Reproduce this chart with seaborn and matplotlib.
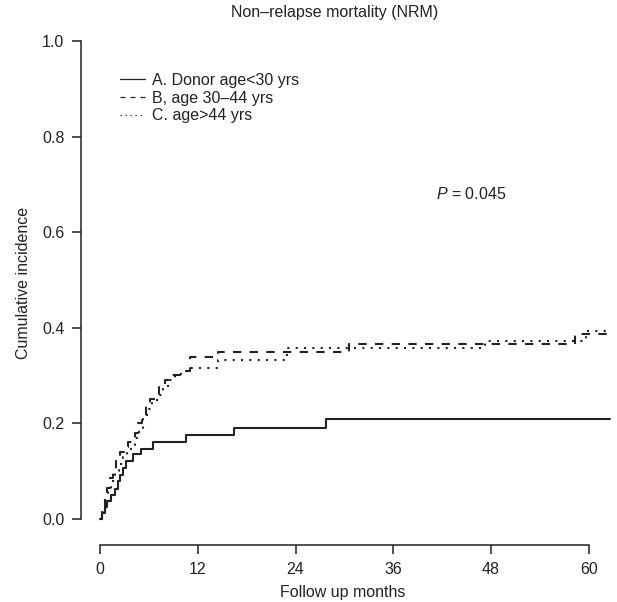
import matplotlib
matplotlib.use("Agg")
import matplotlib.pyplot as plt
import numpy as np
import pandas as pd
import seaborn as sns

# ── data ─────────────────────────────────────────────────────────────────────
months_a = [0, 0.3, 0.6, 0.9, 1.3, 1.8, 2.2, 2.5, 2.8, 3.2, 4.0, 5.0, 6.5,
            10.6, 16.4, 27.8, 62.6]
nrm_a = [0, 0.012, 0.025, 0.037, 0.050, 0.062, 0.078, 0.092, 0.107, 0.121,
         0.135, 0.146, 0.161, 0.176, 0.190, 0.209, 0.209]

months_b = [0, 0.3, 0.6, 0.9, 1.2, 1.6, 2.0, 2.5, 3.0, 3.4, 3.9, 4.3, 4.7,
            5.1, 5.6, 6.1, 6.7, 7.3, 8.0, 8.6, 9.8, 11.0, 14.5, 30.6, 58.3, 62.6]
nrm_b = [0, 0.02, 0.045, 0.065, 0.085, 0.10, 0.12, 0.14, 0.15, 0.16, 0.17,
         0.18, 0.20, 0.22, 0.235, 0.25, 0.262, 0.275, 0.29, 0.30, 0.31,
         0.338, 0.349, 0.366, 0.387, 0.387]

months_c = [0, 0.3, 0.7, 1.0, 1.4, 1.8, 2.3, 2.8, 3.3, 3.8, 4.3, 4.8, 5.3,
            5.8, 6.4, 7.0, 7.7, 8.4, 9.2, 10.0, 11.0, 14.5, 23.0, 47.2, 59.7, 62.6]
nrm_c = [0, 0.015, 0.035, 0.06, 0.08, 0.10, 0.115, 0.13, 0.145, 0.155, 0.17,
         0.19, 0.21, 0.23, 0.245, 0.26, 0.275, 0.29, 0.30, 0.31, 0.315,
         0.333, 0.357, 0.372, 0.394, 0.394]

labels = ["A. Donor age<30 yrs", "B, age 30\u201344 yrs", "C. age>44 yrs"]
x_ticks = [0, 12, 24, 36, 48, 60]
y_ticks = [0.0, 0.2, 0.4, 0.6, 0.8, 1.0]

# ── style ────────────────────────────────────────────────────────────────────
sns.set_style("ticks")
plt.rcParams["font.family"] = ["Liberation Sans", "DejaVu Sans"]
plt.rcParams["mathtext.fontset"] = "custom"
plt.rcParams["mathtext.it"] = "Liberation Sans:italic"
plt.rcParams["mathtext.rm"] = "Liberation Sans"
INK = "#222222"
FS = 11.5

fig = plt.figure(figsize=(6.17, 6.02), dpi=100)
ax = fig.add_axes([0.1313, 0.0947, 0.860, 0.853])

styles = ["-", (0, (4, 4)), (0, (1, 3))]
series = [(months_a, nrm_a), (months_b, nrm_b), (months_c, nrm_c)]
for (mx, my), lab, ls in zip(series, labels, styles):
    df = pd.DataFrame({"month": mx, "ci": my})
    sns.lineplot(data=df, x="month", y="ci", ax=ax, estimator=None,
                 drawstyle="steps-post", color=INK, linewidth=1.5,
                 linestyle=ls, label=lab)

ax.set_xlim(-2.33, 62.8)
ax.set_ylim(-0.055, 1.02)
ax.set_xticks(x_ticks)
ax.set_yticks(y_ticks)
ax.set_xticklabels([str(t) for t in x_ticks])
ax.set_yticklabels([f"{t:.1f}" for t in y_ticks])
ax.spines["left"].set_bounds(0, 1)
ax.spines["bottom"].set_bounds(0, 60)
sns.despine(ax=ax)
for s in ("left", "bottom"):
    ax.spines[s].set_linewidth(1.1)
    ax.spines[s].set_color(INK)
ax.tick_params(direction="out", length=6.5, width=1.1, color=INK,
               labelcolor=INK, labelsize=FS, pad=5.5)
ax.set_xlabel("")
ax.set_ylabel("")

# legend: thinner handles, rows ~17 px apart
leg = ax.legend(loc="upper left", bbox_to_anchor=(120 / 617, 1 - 73 / 602),
                bbox_transform=fig.transFigure, frameon=False, fontsize=FS,
                borderpad=0, borderaxespad=0, handlelength=1.56,
                handletextpad=0.44, labelspacing=0.16)
for line in leg.get_lines():
    line.set_linewidth(0.9)
for t in leg.get_texts():
    t.set_color(INK)

ax.text(41.3, 0.68, r"$P$ = 0.045", fontsize=FS, color=INK,
        ha="left", va="center")

fig.text(335 / 617, 1 - 13 / 602, "Non\u2013relapse mortality (NRM)",
         ha="center", va="center", fontsize=FS, color=INK)
fig.text(343 / 617, 1 - 592 / 602, "Follow up months",
         ha="center", va="center", fontsize=FS, color=INK)
fig.text(24 / 617, 1 - 283 / 602, "Cumulative incidence", rotation=90,
         ha="center", va="center", fontsize=FS, color=INK)

fig.savefig("out.png", dpi=100, facecolor="white")
